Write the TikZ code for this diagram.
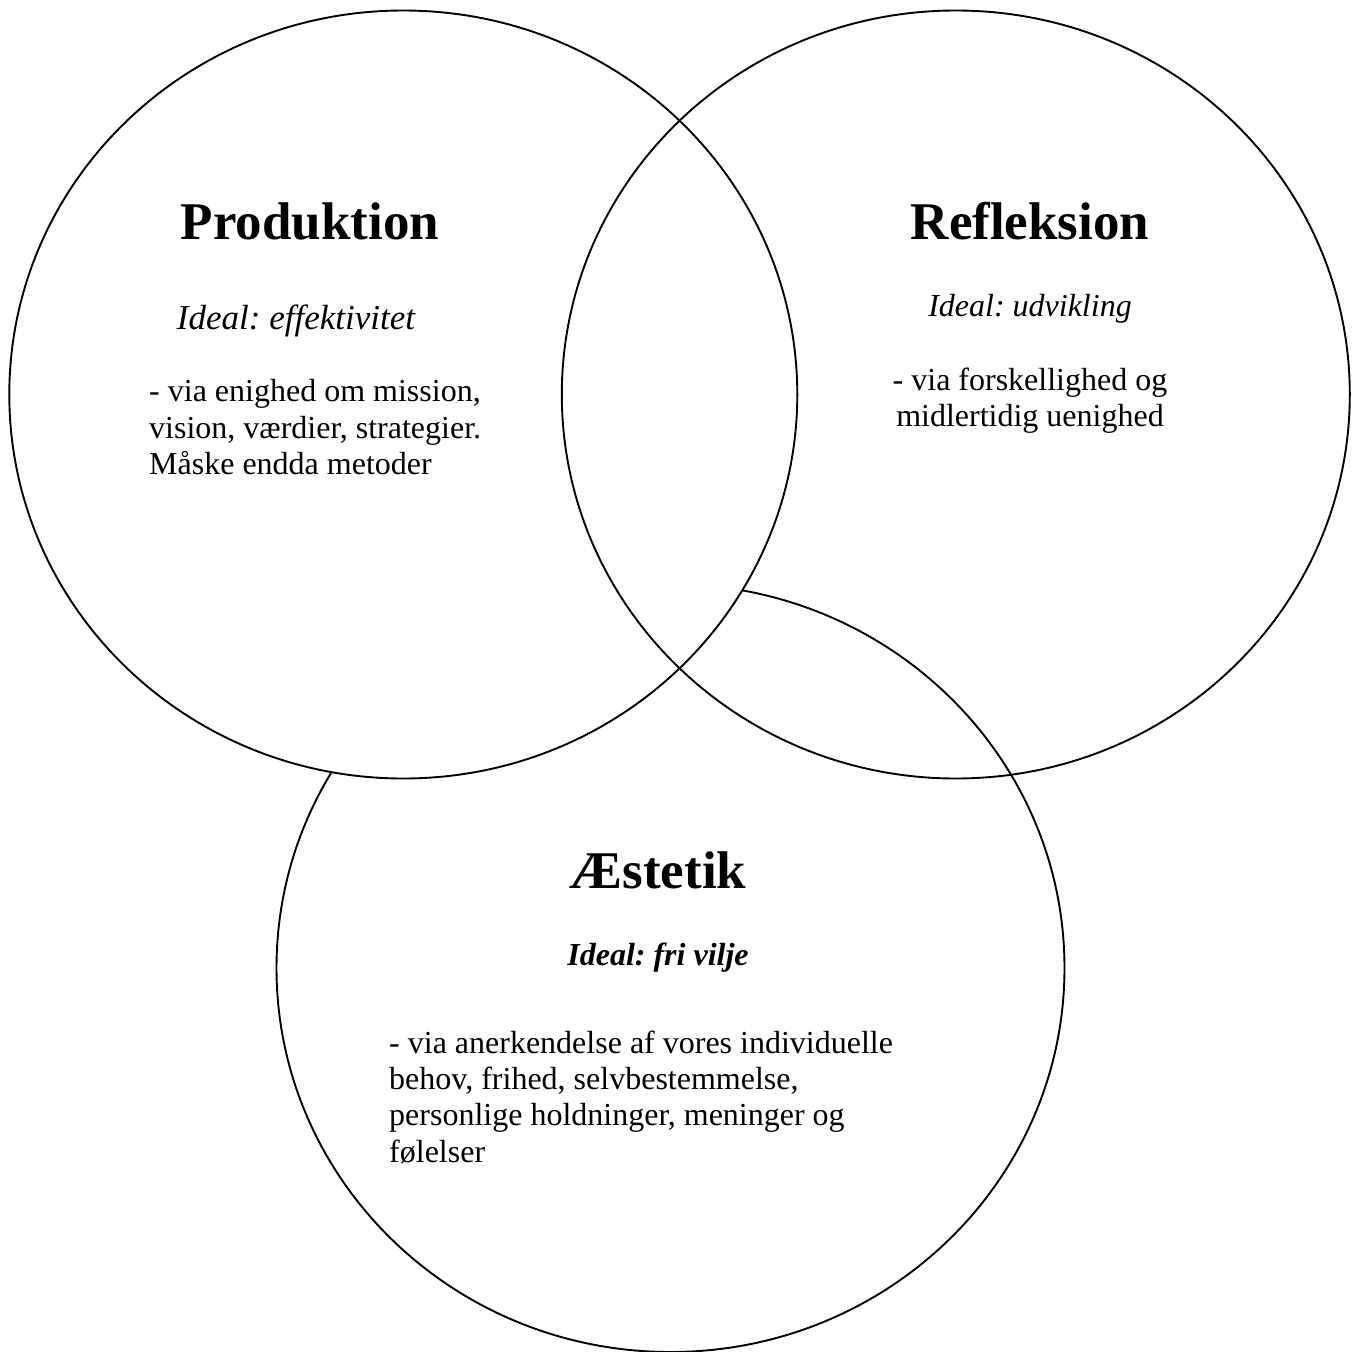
\documentclass[tikz,border=0pt]{standalone}
\usepackage{fontspec}
\setmainfont{Liberation Serif}
\usetikzlibrary{shapes.geometric}
\frenchspacing
\begin{document}
\begin{tikzpicture}[x=1pt,y=-1pt,
  circ/.style={ellipse, draw, line width=1.9pt, minimum width=788pt, minimum height=768pt, inner sep=0pt},
  head/.style={font=\fontsize{53}{60}\selectfont\bfseries, anchor=base, inner sep=0pt},
  ideal/.style={font=\fontsize{32}{36.3}\selectfont\itshape\frenchspacing, anchor=base, inner sep=0pt},
  body/.style={font=\fontsize{32}{36.3}\selectfont\frenchspacing, inner sep=0pt}]
\useasboundingbox (0,0) rectangle (1358,1352);
\node[circ] (aes) at (670.5,968) {};
\node[circ, fill=white] (prod) at (403.3,394.5) {};
\node[circ] (refl) at (955.8,394.5) {};
% Produktion
\node[head] (prodh) at (310,239) {Produktion};
\node[ideal, font=\fontsize{35}{40}\selectfont\itshape\frenchspacing] (prodi) at (296,329) {Ideal: effektivitet};
\node[body, anchor=north west, align=left] (prodb) at (149,377.7)
  {\rule{0pt}{24pt}- via enighed om mission,\\vision, værdier, strategier.\\Måske endda metoder};
% Refleksion
\node[head] (reflh) at (1030,239) {Refleksion};
\node[ideal] (refli) at (1030,316) {Ideal: udvikling};
\node[body, anchor=north, align=center] (reflb) at (1030,366)
  {\rule{0pt}{24pt}- via forskellighed og\\midlertidig uenighed};
% Æstetik
\node[head] (aesh) at (658,888) {Æstetik};
\node[ideal, font=\fontsize{32}{36.3}\selectfont\bfseries\itshape\frenchspacing] (aesi) at (658,965) {Ideal: fri vilje};
\node[body, anchor=north west, align=left] (aesb) at (389,1029)
  {\rule{0pt}{24pt}- via anerkendelse af vores individuelle\\behov, frihed, selvbestemmelse,\\personlige holdninger, meninger og\\følelser};
\end{tikzpicture}
\end{document}
